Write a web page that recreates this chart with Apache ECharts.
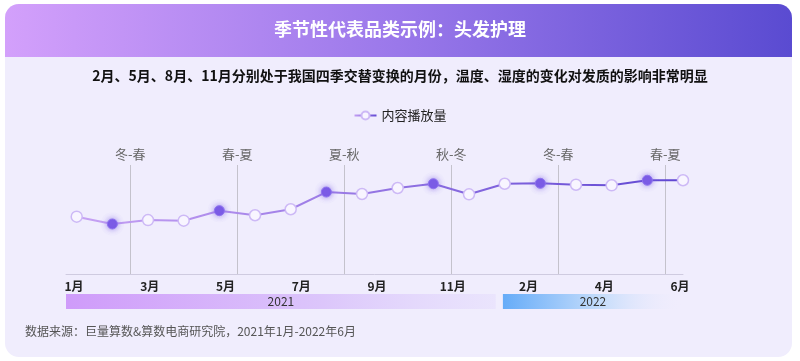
<!DOCTYPE html>
<html>
<head>
<meta charset="utf-8">
<script src="https://cdn.jsdelivr.net/npm/echarts@6/dist/echarts.min.js"></script>
<style>
html,body{margin:0;padding:0;background:#ffffff;}
#main{width:800px;height:361px;}
</style>
</head>
<body>
<div id="main"></div>
<script>
// ---- data ----
const months = ['2021-01','2021-02','2021-03','2021-04','2021-05','2021-06','2021-07','2021-08','2021-09','2021-10','2021-11','2021-12','2022-01','2022-02','2022-03','2022-04','2022-05','2022-06'];
const playVolume = [52.6, 45.9, 49.5, 48.9, 58.1, 53.9, 59.4, 75.2, 73.4, 78.9, 82.8, 73.1, 82.8, 83.2, 81.9, 81.4, 86.0, 86.0];
const transitionIdx = [1, 4, 7, 10, 13, 16];
const seasonLabels = ['冬-春', '春-夏', '夏-秋', '秋-冬', '冬-春', '春-夏'];
const seasonAt = [1.5, 4.5, 7.5, 10.5, 13.5, 16.5];
const tickLabels = ['1月', '3月', '5月', '7月', '9月', '11月', '2月', '4月', '6月'];
const years = ['2021', '2022'];
const yearStart = [-0.3, 11.95];
const yearEnd = [11.75, 17];

const FONT = '"Noto Sans CJK SC", "Noto Sans", sans-serif';
const chart = echarts.init(document.getElementById('main'));

const seriesData = playVolume.map((v, i) => {
  if (transitionIdx.indexOf(i) >= 0) {
    return {
      value: [i, v],
      symbolSize: 10,
      itemStyle: { color: '#7a5ae6', borderColor: '#8f74ee', borderWidth: 1, shadowBlur: 6, shadowColor: 'rgba(120,90,230,0.7)' }
    };
  }
  return { value: [i, v] };
});

const yearBarColors = [
  [{ offset: 0, color: '#cf9bfa' }, { offset: 0.6, color: '#dcc6fb' }, { offset: 1, color: 'rgba(225,215,252,0.4)' }],
  [{ offset: 0, color: '#66acf8' }, { offset: 0.55, color: '#c6ddfb' }, { offset: 0.85, color: 'rgba(225,230,252,0.3)' }, { offset: 1, color: 'rgba(240,237,253,0)' }]
];

const option = {
  animation: false,
  textStyle: { fontFamily: FONT },
  graphic: [
    { type: 'rect', silent: true, z: -10, shape: { x: 5, y: 4, width: 787, height: 353, r: 14 }, style: { fill: '#f0edfd' } },
    { type: 'rect', silent: true, z: -9, shape: { x: 5, y: 4, width: 787, height: 53, r: [14, 14, 0, 0] },
      style: { fill: new echarts.graphic.LinearGradient(0, 0, 1, 0, [{ offset: 0, color: '#d3a0fb' }, { offset: 0.5, color: '#9a78ea' }, { offset: 1, color: '#5a4bd1' }]) } },
    { type: 'text', left: 25, top: 325, style: { text: '数据来源：巨量算数&算数电商研究院，2021年1月-2022年6月', fill: '#555', fontSize: 12, fontFamily: FONT } }
  ],
  title: [
    { text: '季节性代表品类示例：头发护理', left: 'center', top: 20, padding: 0,
      textStyle: { color: '#ffffff', fontSize: 18, fontWeight: 'bold', fontFamily: FONT } },
    { text: '2月、5月、8月、11月分别处于我国四季交替变换的月份，温度、湿度的变化对发质的影响非常明显', left: 'center', top: 69, padding: 0,
      textStyle: { color: '#111', fontSize: 14, fontWeight: 'bold', fontFamily: FONT } }
  ],
  legend: {
    top: 104, left: 'center', itemWidth: 22, itemHeight: 10, itemGap: 10,
    textStyle: { color: '#222', fontSize: 13, fontFamily: FONT },
    data: ['内容播放量']
  },
  grid: [
    { left: 66, right: 117, top: 165, bottom: 87 },
    { left: 74, right: 120, top: 165, bottom: 87 },
    { left: 66, right: 117, top: 294, height: 15 }
  ],
  xAxis: [
    { type: 'value', gridIndex: 0, min: -0.3, max: 17, axisLine: { show: true, lineStyle: { color: '#cfcbe0', width: 1 } }, axisTick: { show: false }, axisLabel: { show: false }, splitLine: { show: false } },
    { type: 'category', gridIndex: 1, data: tickLabels, boundaryGap: false, axisLine: { show: false }, axisTick: { show: false }, splitLine: { show: false },
      axisLabel: { color: '#222', fontSize: 12, fontWeight: 'bold', margin: 6, interval: 0, fontFamily: FONT } },
    { type: 'value', gridIndex: 2, min: -0.3, max: 17, show: false }
  ],
  yAxis: [
    { type: 'value', gridIndex: 0, min: 0, max: 100, show: false },
    { type: 'value', gridIndex: 1, min: 0, max: 100, show: false },
    { type: 'value', gridIndex: 2, min: 0, max: 1, show: false }
  ],
  series: [
    {
      name: '内容播放量', type: 'line', xAxisIndex: 0, yAxisIndex: 0,
      data: seriesData,
      symbol: 'circle', symbolSize: 11, showSymbol: true,
      lineStyle: { width: 2, color: new echarts.graphic.LinearGradient(0, 0, 1, 0, [{ offset: 0, color: '#c7a2f4' }, { offset: 1, color: '#5f46d2' }]) },
      itemStyle: { color: '#f8f5ff', borderColor: '#cdb9f6', borderWidth: 1.5 },
      z: 5,
      markLine: {
        silent: true, symbol: 'none',
        lineStyle: { color: '#c4c2cc', type: 'solid', width: 1 },
        label: { show: true, position: 'end', distance: 4, color: '#666', fontSize: 13, fontFamily: FONT, formatter: p => p.name },
        data: seasonAt.map((x, i) => ({ xAxis: x, name: seasonLabels[i] }))
      }
    },
    {
      type: 'custom', xAxisIndex: 2, yAxisIndex: 2,
      data: years.map((y, i) => [yearStart[i], yearEnd[i], y]),
      renderItem: function (params, api) {
        const s = api.coord([api.value(0), 1]);
        const e = api.coord([api.value(1), 0]);
        const idx = params.dataIndex;
        return {
          type: 'group',
          children: [
            { type: 'rect', shape: { x: s[0], y: s[1], width: e[0] - s[0], height: e[1] - s[1] },
              style: { fill: new echarts.graphic.LinearGradient(0, 0, 1, 0, yearBarColors[idx]) } },
            { type: 'text', x: (s[0] + e[0]) / 2, y: (s[1] + e[1]) / 2,
              style: { text: years[idx], fill: '#333', fontSize: 12, fontFamily: FONT, align: 'center', verticalAlign: 'middle' } }
          ]
        };
      }
    }
  ]
};
chart.setOption(option);
</script>
</body>
</html>
